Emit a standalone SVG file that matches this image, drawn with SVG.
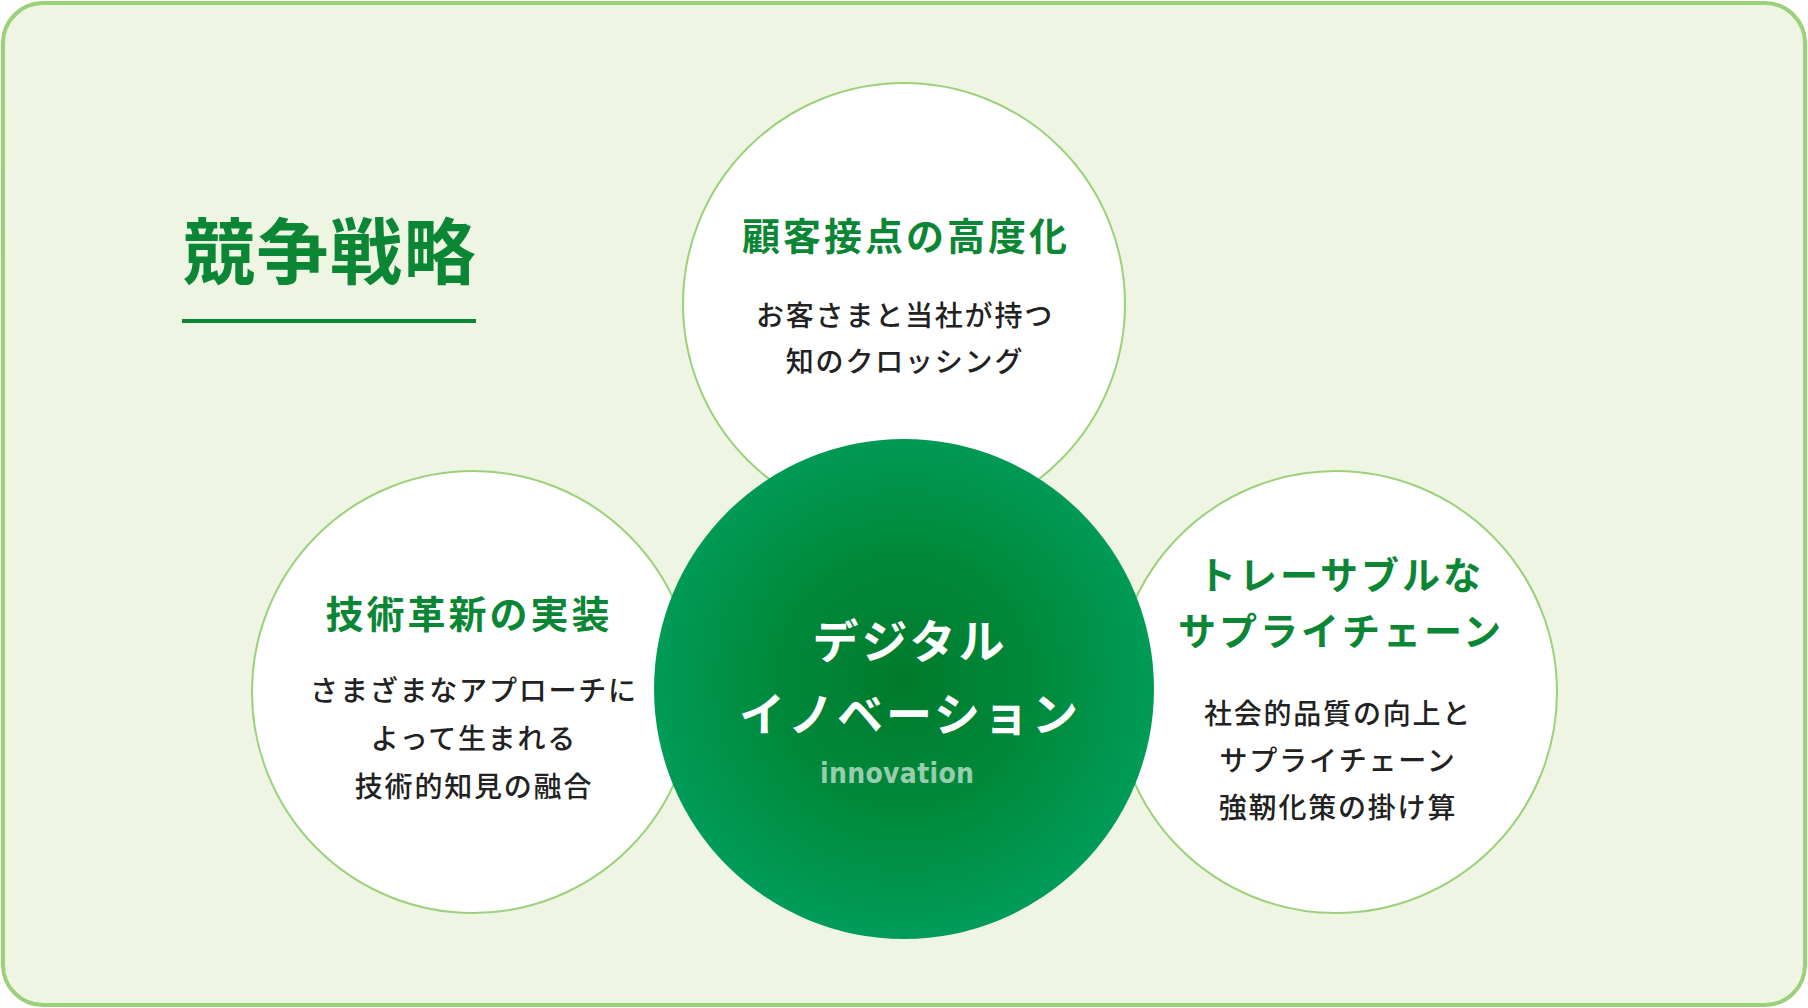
<svg xmlns="http://www.w3.org/2000/svg" width="1808" height="1008" viewBox="0 0 1808 1008">
<defs>
<radialGradient id="cg" cx="904" cy="680" r="250" gradientUnits="userSpaceOnUse">
<stop offset="0" stop-color="#007a2c"/>
<stop offset="0.55" stop-color="#008a3c"/>
<stop offset="1" stop-color="#009b56"/>
</radialGradient>
<style>
.bg{fill:#eef5e3;stroke:#9cd17c;stroke-width:4}
.wc{fill:#ffffff;stroke:#9cd17c;stroke-width:2}
.ttl{font-family:"Noto Sans CJK JP","Noto Sans",sans-serif;font-weight:700;fill:#0b8634;text-anchor:middle}
.h{font-size:38px;letter-spacing:3px}
.b{font-family:"Noto Sans CJK JP","Noto Sans",sans-serif;font-weight:500;font-size:28px;letter-spacing:1.8px;fill:#222222;text-anchor:middle}
.c{font-family:"Noto Sans CJK JP","Noto Sans",sans-serif;font-weight:700;font-size:46px;letter-spacing:3px;fill:#ffffff;text-anchor:middle}
.en{font-family:"DejaVu Sans Condensed","DejaVu Sans",sans-serif;font-weight:700;font-size:28px;fill:#ffffff;fill-opacity:0.6;text-anchor:middle}
</style>
</defs>
<rect class="bg" x="3" y="3" width="1802" height="1002" rx="40" ry="40"/>
<g id="title">
<text class="ttl" x="330" y="278" style="font-size:72px;letter-spacing:1.5px">競争戦略</text>
<line x1="182" y1="321" x2="476" y2="321" stroke="#0b8634" stroke-width="4"/>
</g>
<g id="connectors"></g>
<g id="node-top">
<circle class="wc" cx="904" cy="304" r="221"/>
<text class="ttl h" x="906" y="250">顧客接点の高度化</text>
<text class="b" x="905" y="326">お客さまと当社が持つ</text>
<text class="b" x="905" y="372">知のクロッシング</text>
</g>
<g id="node-left">
<circle class="wc" cx="473" cy="692" r="221"/>
<text class="ttl h" x="469" y="628">技術革新の実装</text>
<text class="b" x="474" y="701">さまざまなアプローチに</text>
<text class="b" x="474" y="749">よって生まれる</text>
<text class="b" x="474" y="797">技術的知見の融合</text>
</g>
<g id="node-right">
<circle class="wc" cx="1336" cy="692" r="221"/>
<text class="ttl h" x="1341" y="589">トレーサブルな</text>
<text class="ttl h" x="1341" y="645">サプライチェーン</text>
<text class="b" x="1338" y="724">社会的品質の向上と</text>
<text class="b" x="1338" y="771">サプライチェーン</text>
<text class="b" x="1338" y="818">強靭化策の掛け算</text>
</g>
<g id="node-center">
<circle cx="904" cy="689" r="250" fill="url(#cg)"/>
<text class="c" x="910" y="658">デジタル</text>
<text class="c" x="910" y="731">イノベーション</text>
<text class="en" x="897" y="783" textLength="154" lengthAdjust="spacing">innovation</text>
</g>
</svg>
